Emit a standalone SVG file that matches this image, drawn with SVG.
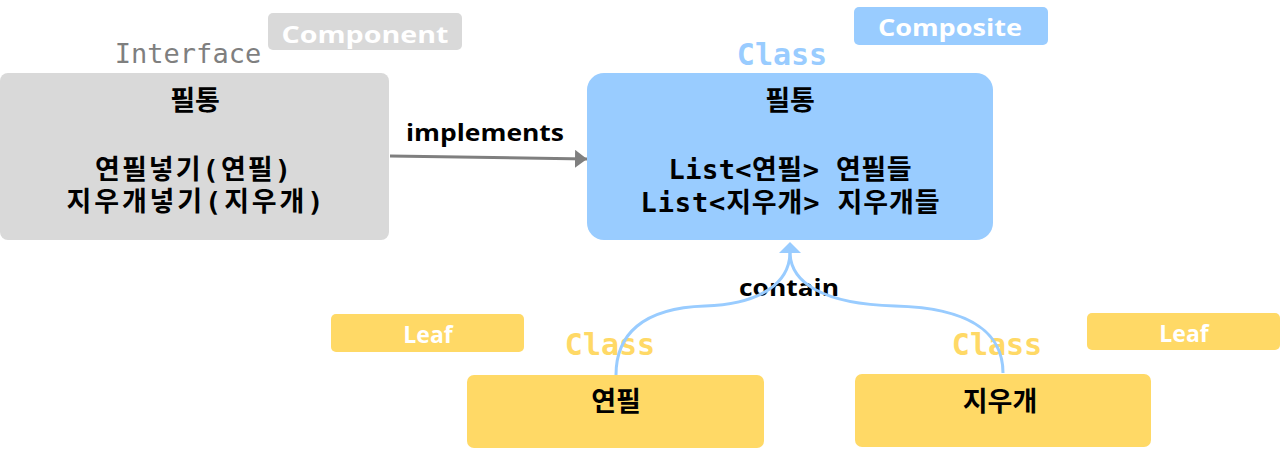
<svg xmlns="http://www.w3.org/2000/svg" width="1280" height="449" viewBox="0 0 1280 449">
<defs>
<style>
.mono{font-family:"DejaVu Sans Mono","Liberation Mono","Noto Sans CJK KR",monospace;}
.kor{font-family:"DejaVu Sans Mono","Noto Sans CJK KR",monospace;font-weight:bold;font-size:27px;fill:#000;text-anchor:middle;}
.tag{font-family:"Open Sans","Noto Sans",sans-serif;font-weight:bold;font-size:23px;fill:#fff;text-anchor:middle;}
.lbl{font-family:"Open Sans","Noto Sans",sans-serif;font-weight:bold;font-size:23px;fill:#000;text-anchor:middle;}
.stereo{font-size:30px;font-weight:bold;text-anchor:middle;}
</style>
<marker id="ag" viewBox="0 0 12 18" refX="12" refY="9" markerWidth="12" markerHeight="18" markerUnits="userSpaceOnUse" orient="auto">
<path d="M0,0 L12,9 L0,18 Z" fill="#7f7f7f"/>
</marker>
<marker id="ab" viewBox="0 0 11 22" refX="11" refY="11" markerWidth="11" markerHeight="22" markerUnits="userSpaceOnUse" orient="auto">
<path d="M0,0 L11,11 L0,22 Z" fill="#99ccff"/>
</marker>
</defs>
<rect width="1280" height="449" fill="#fff"/>

<g id="component">
<rect x="268" y="13" width="194" height="37" rx="5" fill="#d9d9d9"/>
<text class="tag" x="365" y="43" textLength="167" lengthAdjust="spacingAndGlyphs">Component</text>
<text class="mono" x="188" y="63" font-size="27" fill="#7f7f7f" text-anchor="middle">Interface</text>
<rect x="0" y="73" width="389" height="167" rx="8" fill="#d9d9d9"/>
<text class="kor" x="195" y="110">필통</text>
<text class="kor" x="193" y="179" textLength="196" lengthAdjust="spacing">연필넣기(연필)</text>
<text class="kor" x="195" y="211" textLength="257" lengthAdjust="spacing">지우개넣기(지우개)</text>
</g>

<g id="composite">
<rect x="854" y="7" width="194" height="38" rx="5" fill="#99ccff"/>
<text class="tag" x="950" y="36" textLength="144" lengthAdjust="spacingAndGlyphs">Composite</text>
<text class="mono stereo" x="782" y="65" fill="#99ccff">Class</text>
<rect x="587" y="73" width="406" height="167" rx="17" fill="#99ccff"/>
<text class="kor" x="790" y="110">필통</text>
<text class="kor" x="790" y="179" textLength="243" lengthAdjust="spacing">List&lt;연필&gt; 연필들</text>
<text class="kor" x="790" y="212" textLength="299" lengthAdjust="spacing">List&lt;지우개&gt; 지우개들</text>
</g>

<g id="leaf-pencil">
<rect x="331" y="314" width="193" height="38" rx="5" fill="#ffd966"/>
<text class="tag" x="428" y="343">Leaf</text>
<text class="mono stereo" x="610" y="355" fill="#ffd966">Class</text>
<rect x="467" y="375" width="297" height="73" rx="7" fill="#ffd966"/>
<text class="kor" x="616" y="411">연필</text>
</g>

<g id="leaf-eraser">
<rect x="1087" y="313" width="193" height="37" rx="5" fill="#ffd966"/>
<text class="tag" x="1184" y="342">Leaf</text>
<text class="mono stereo" x="997" y="355" fill="#ffd966">Class</text>
<rect x="855" y="374" width="296" height="73" rx="7" fill="#ffd966"/>
<text class="kor" x="1000" y="411">지우개</text>
</g>

<g id="connectors">
<text class="lbl" x="485" y="141" textLength="158" lengthAdjust="spacingAndGlyphs">implements</text>
<line x1="390" y1="156" x2="587" y2="159" stroke="#7f7f7f" stroke-width="3" marker-end="url(#ag)"/>
<text class="lbl" x="789" y="296" textLength="100" lengthAdjust="spacingAndGlyphs">contain</text>
<path d="M616,375 C616,335 642,308 705,306 C762,304 790,282 790,252" fill="none" stroke="#99ccff" stroke-width="3"/>
<path d="M1003,373 C1003,336 975,308 895,306 C822,304 790,282 790,252" fill="none" stroke="#99ccff" stroke-width="3"/>
<line x1="790" y1="253" x2="790" y2="242" stroke="none" marker-end="url(#ab)"/>
</g>
</svg>
